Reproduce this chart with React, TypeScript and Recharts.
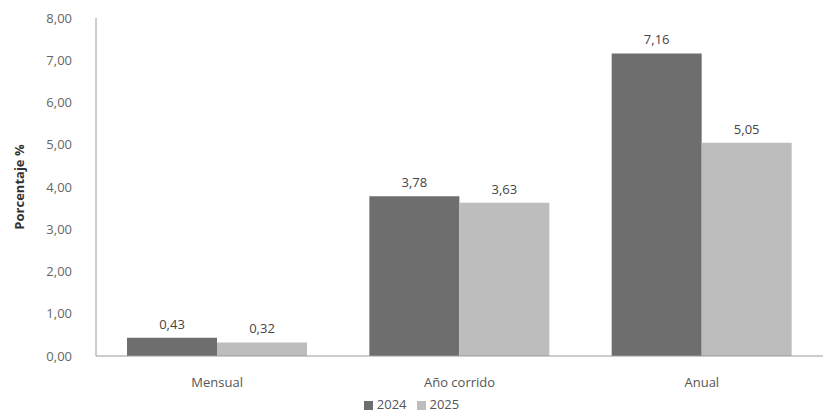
import React from 'react';
import { BarChart, Bar, XAxis, YAxis, Legend, LabelList } from 'recharts';

const categories = ['Mensual', 'Año corrido', 'Anual'];
const values2024 = [0.43, 3.78, 7.16];
const values2025 = [0.32, 3.63, 5.05];
const yTicks = [0, 1, 2, 3, 4, 5, 6, 7, 8];

const data = categories.map((name, i) => ({
  name,
  y2024: values2024[i],
  y2025: values2025[i],
}));

const fmt = (v: number) => v.toFixed(2).replace('.', ',');
const FONT = '"Open Sans", "Noto Sans", sans-serif';

export default function App() {
  return (
    <div style={{ position: 'absolute', left: 0, top: 0, width: 823, height: 412, background: '#fff', fontFamily: FONT }}>
      <BarChart
        width={823}
        height={412}
        data={data}
        margin={{ top: 18, right: 0, left: 10, bottom: 0 }}
        barCategoryGap="12.8%"
        barGap={0}
      >
        <XAxis
          dataKey="name"
          stroke="#9a9a9a"
          tickLine={false}
          tickMargin={16}
          height={41}
          tick={{ fill: '#555', fontSize: 13, fontFamily: FONT }}
        />
        <YAxis
          domain={[0, 8]}
          ticks={yTicks}
          tickFormatter={fmt}
          stroke="#9a9a9a"
          tickLine={false}
          tickSize={0}
          tickMargin={24}
          width={86}
          tick={{ fill: '#666', fontSize: 13, fontFamily: FONT }}
          label={{
            value: 'Porcentaje %',
            angle: -90,
            position: 'insideLeft',
            offset: 9,
            style: { fill: '#333', fontSize: 13, fontWeight: 700, textAnchor: 'middle', fontFamily: FONT },
          }}
        />
        <Legend
          verticalAlign="bottom"
          align="center"
          iconType="square"
          iconSize={9}
          height={15}
          wrapperStyle={{ fontSize: 13, fontFamily: FONT, lineHeight: '14px' }}
          formatter={(v: string) => <span style={{ color: '#555' }}>{v}</span>}
        />
        <Bar dataKey="y2024" name="2024" fill="#6e6e6e" isAnimationActive={false}>
          <LabelList dataKey="y2024" position="top" offset={9} formatter={(v: number) => fmt(v)} style={{ fill: '#444', fontSize: 13, fontFamily: FONT }} />
        </Bar>
        <Bar dataKey="y2025" name="2025" fill="#bdbdbd" isAnimationActive={false}>
          <LabelList dataKey="y2025" position="top" offset={9} formatter={(v: number) => fmt(v)} style={{ fill: '#444', fontSize: 13, fontFamily: FONT }} />
        </Bar>
      </BarChart>
    </div>
  );
}
